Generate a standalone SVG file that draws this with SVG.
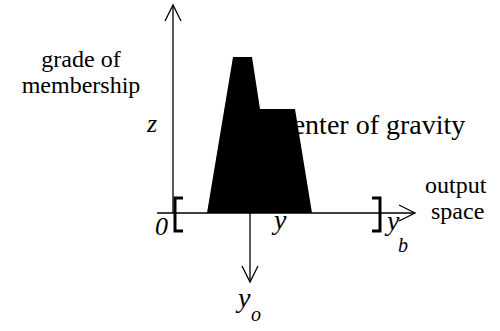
<svg xmlns="http://www.w3.org/2000/svg" width="500" height="331" viewBox="0 0 500 331">
<style>
text{font-family:"Liberation Serif","Times New Roman","DejaVu Serif",serif;fill:#000}
.t{font-size:24px}
.i{font-style:italic}
.ax{stroke:#000;stroke-width:1.3;fill:none}
.br{stroke:#000;stroke-width:3;fill:none}
</style>
<defs>
<marker id="arr" markerWidth="20" markerHeight="20" refX="17" refY="9" orient="auto" markerUnits="userSpaceOnUse">
<path d="M1,1 L17,9 L1,17" fill="none" stroke="#000" stroke-width="1.3"/>
</marker>
</defs>
<g id="labels">
<text class="t" x="81" y="67" text-anchor="middle">grade of</text>
<text class="t" x="81" y="93" text-anchor="middle">membership</text>
<text class="t" x="425" y="193">output</text>
<text class="t" x="431" y="219">space</text>
<text class="t" x="274" y="134" style="font-size:28px">Center of gravity</text>
</g>
<g id="connectors">
<line class="ax" x1="173" y1="213" x2="173" y2="5" marker-end="url(#arr)"/>
<line class="ax" x1="157" y1="213" x2="415" y2="213" marker-end="url(#arr)"/>
<line class="ax" x1="250" y1="213" x2="250" y2="282" marker-end="url(#arr)"/>
</g>
<g id="membership-shape">
<polygon points="207,213 233,57 252,57 260,109 295,109 312,213" fill="#000"/>
</g>
<g id="brackets">
<path class="br" d="M183,198 L175,198 L175,231 L183,231"/>
<path class="br" d="M372,198 L380,198 L380,231 L372,231"/>
</g>
<g id="symbols">
<text class="i" x="147" y="132" font-size="26">z</text>
<text class="i" x="155" y="235" font-size="26">0</text>
<text class="i" x="274" y="229" font-size="28">y</text>
<text class="i" x="387" y="230" font-size="28">y</text>
<text class="i" x="398" y="252" font-size="20">b</text>
<text class="i" x="238" y="307" font-size="28">y</text>
<text class="i" x="251" y="321" font-size="20">o</text>
</g>
</svg>
